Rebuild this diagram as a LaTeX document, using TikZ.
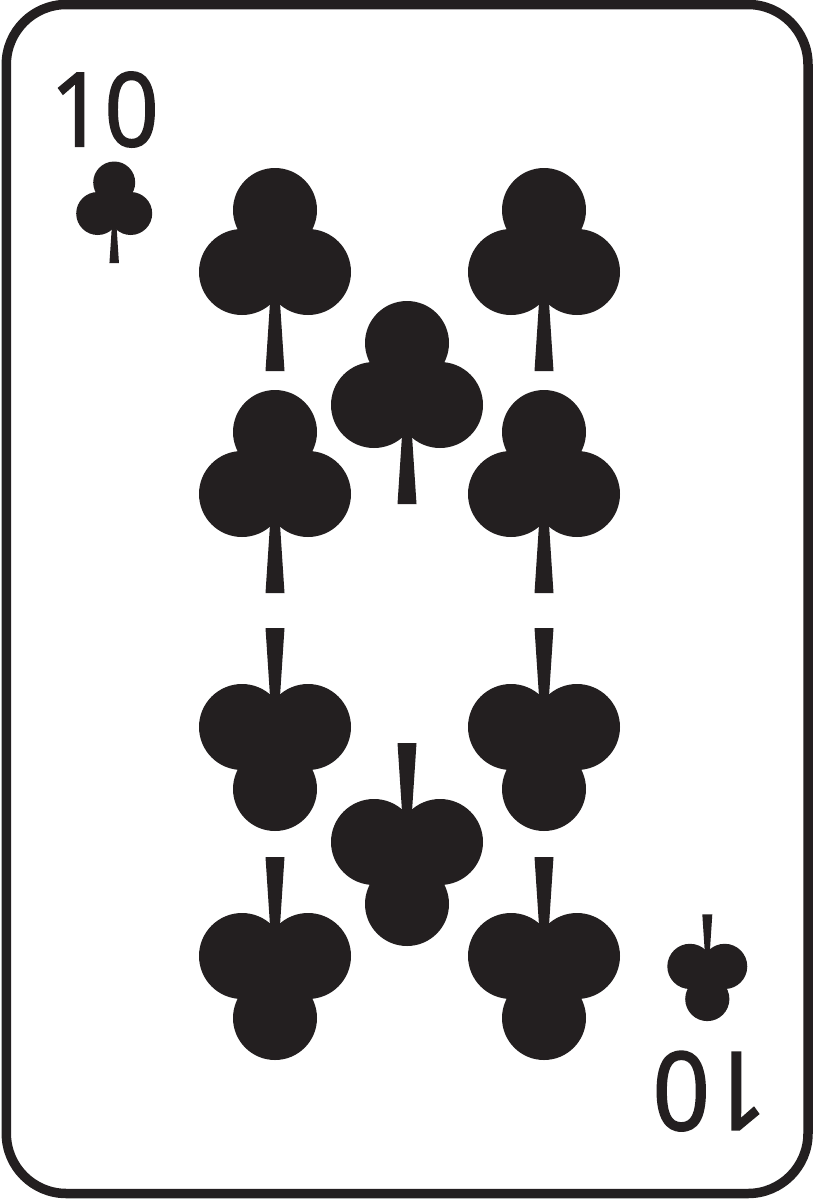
\documentclass[tikz,border=0pt]{standalone}
\usepackage{fontspec}
\newfontfamily\rankfont[FakeBold=2]{Open Sans}
\definecolor{CardInk}{RGB}{35, 31, 32}
\definecolor{White}{RGB}{255, 255, 255}
\tikzset{
    clubpip/.pic={
        \fill[CardInk] (0,-62) circle [radius=42];
        \fill[CardInk] (-33,0) circle [radius=43];
        \fill[CardInk] (33,0) circle [radius=43];
        \fill[CardInk] (-4.3,20) -- (4.3,20) -- (9.5,99) -- (-9.5,99) -- cycle;
    }
}

\begin{document}
\begin{tikzpicture}[
        x=1pt, y=-1pt,
        frame/.style={draw=CardInk, line width=9.5pt, rounded corners=60pt, fill=White},
        rank/.style={text=CardInk, inner sep=0pt, anchor=base}
    ]
        \useasboundingbox (0,0) rectangle (815,1200);
        \draw[frame] (6.3,4.5) rectangle (808,1193.5);

        \node[rank, xscale=0.93, font=\fontsize{102}{102}\rankfont] (ranktop) at (104.5,146) {10};
        \node[rank, rotate=180, xscale=0.93, font=\fontsize{108}{108}\rankfont] (rankbottom) at (710,1052.5) {10};

        \pic[scale=0.5] at (114.2,213.5) {clubpip};
        \pic[scale=0.526, yscale=-1] at (707.3,966.4) {clubpip};

        % upright pips
        \foreach \px/\py in {275/272, 544/272, 407/405, 275/494, 544/494}
            \pic at (\px,\py) {clubpip};
        % flipped pips
        \foreach \px/\py in {275/727, 544/727, 407/842, 275/956, 544/956}
            \pic[yscale=-1] at (\px,\py) {clubpip};
    \end{tikzpicture}
\end{document}
